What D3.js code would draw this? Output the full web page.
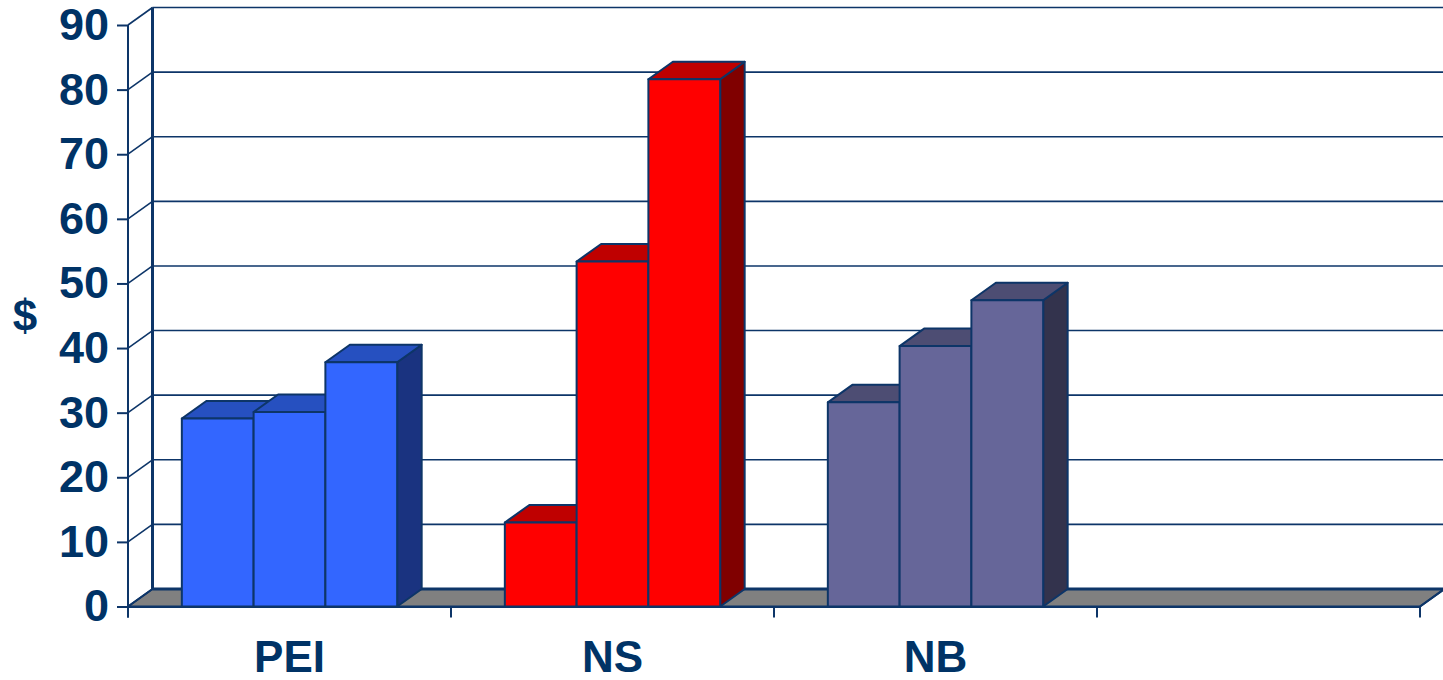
<!DOCTYPE html>
<html>
<head>
<meta charset="utf-8">
<script src="https://cdn.jsdelivr.net/npm/d3@7"></script>
<style>
  body { margin: 0; background: #fff; }
  text { font-family: "Liberation Sans", Arial, sans-serif; font-weight: bold; }
</style>
</head>
<body>
<svg id="chart"></svg>
<script>
const categories = ["PEI", "NS", "NB", ""];
const seriesIdx = [0, 1, 2];
const peiValues = [29.1, 30.1, 37.8];
const nsValues = [13, 53.4, 81.6];
const nbValues = [31.6, 40.3, 47.4];
const yTicks = [0, 10, 20, 30, 40, 50, 60, 70, 80, 90];

const values = { PEI: peiValues, NS: nsValues, NB: nbValues, "": [] };
const colors = {
    PEI: { front: "#3366ff", top: "#2650c0", side: "#1a3380" },
    NS:  { front: "#ff0000", top: "#bf0000", side: "#800000" },
    NB:  { front: "#666699", top: "#4d4d73", side: "#33334d" },
    "":  { front: "#fff", top: "#fff", side: "#fff" }
};

const width = 1443, height = 680;
const navy = "#0d3568";
const DX = 24.5, DY = -17.5;

const svg = d3.select("#chart")
    .attr("width", width)
    .attr("height", height);

const y = d3.scaleLinear().domain([0, 90]).range([606.5, 25]);

const x0 = d3.scaleBand()
    .domain(categories)
    .range([128, 1420])
    .padding(0);

const groupW = x0.bandwidth() * 2 / 3;
const x1 = d3.scaleBand()
    .domain(seriesIdx)
    .range([0, groupW]);

const left = x0.range()[0], right = x0.range()[1];

// floor
svg.append("polygon")
    .attr("points", [[left, y(0)], [right, y(0)], [right + DX, y(0) + DY], [left + DX, y(0) + DY]].join(" "))
    .attr("fill", "#808080")
    .attr("stroke", navy)
    .attr("stroke-width", 2)
    .attr("stroke-linejoin", "round");

// back wall gridlines and side wall lines
svg.append("g")
    .selectAll("line")
    .data(yTicks.slice(1))
    .join("line")
    .attr("x1", left + DX)
    .attr("x2", width + 5)
    .attr("y1", d => y(d) + DY)
    .attr("y2", d => y(d) + DY)
    .attr("stroke", navy)
    .attr("stroke-width", 1.6);

svg.append("g")
    .selectAll("line")
    .data(yTicks)
    .join("line")
    .attr("x1", left)
    .attr("x2", left + DX)
    .attr("y1", d => y(d))
    .attr("y2", d => y(d) + DY)
    .attr("stroke", navy)
    .attr("stroke-width", 1.6);

svg.append("line")
    .attr("x1", left + DX).attr("x2", left + DX)
    .attr("y1", y(0) + DY).attr("y2", y(90) + DY)
    .attr("stroke", navy).attr("stroke-width", 3);

svg.append("line")
    .attr("x1", left + DX).attr("x2", width + 5)
    .attr("y1", y(0) + DY).attr("y2", y(0) + DY)
    .attr("stroke", navy).attr("stroke-width", 3);

// bars
categories.forEach(cat => {
    const vals = values[cat];
    const c = colors[cat];
    const gx = x0(cat) + (x0.bandwidth() - groupW) / 2;
    vals.forEach((v, i) => {
        const xa = gx + x1(i), xb = xa + x1.bandwidth();
        const yt = y(v), yb = y(0);
        const g = svg.append("g")
            .attr("stroke", navy)
            .attr("stroke-width", 2)
            .attr("stroke-linejoin", "round");
        g.append("polygon")
            .attr("points", [[xb, yt], [xb + DX, yt + DY], [xb + DX, yb + DY], [xb, yb]].join(" "))
            .attr("fill", c.side);
        g.append("polygon")
            .attr("points", [[xa, yt], [xa + DX, yt + DY], [xb + DX, yt + DY], [xb, yt]].join(" "))
            .attr("fill", c.top);
        g.append("rect")
            .attr("x", xa)
            .attr("y", yt)
            .attr("width", xb - xa)
            .attr("height", yb - yt)
            .attr("fill", c.front);
    });
});

// right edge of floor
svg.append("line")
    .attr("x1", right).attr("x2", right + DX)
    .attr("y1", y(0)).attr("y2", y(0) + DY)
    .attr("stroke", navy).attr("stroke-width", 2);

// y axis
const yAxis = svg.append("g")
    .attr("transform", `translate(${left},0)`)
    .call(d3.axisLeft(y).tickValues(yTicks).tickSize(11).tickPadding(8).tickFormat(d3.format("d")));
yAxis.select(".domain")
    .attr("d", `M0,${y(90)}V${y(0) + 11}`)
    .attr("stroke", navy).attr("stroke-width", 2);
yAxis.selectAll(".tick line").attr("stroke", navy).attr("stroke-width", 2);
yAxis.selectAll(".tick text")
    .attr("fill", "#003366")
    .attr("font-size", 45)
    .attr("font-family", "Liberation Sans, Arial, sans-serif")
    .attr("font-weight", "bold");

// x axis
const xAxis = svg.append("g")
    .attr("transform", `translate(0,${y(0)})`)
    .call(d3.axisBottom(x0).tickSize(0).tickPadding(34));
xAxis.select(".domain").attr("stroke", navy).attr("stroke-width", 2);
xAxis.selectAll(".tick text")
    .attr("fill", "#003366")
    .attr("font-size", 44)
    .attr("font-family", "Liberation Sans, Arial, sans-serif")
    .attr("font-weight", "bold");

svg.append("g")
    .selectAll("line")
    .data(categories.map(c => x0(c)).concat([right]))
    .join("line")
    .attr("x1", d => d).attr("x2", d => d)
    .attr("y1", y(0)).attr("y2", y(0) + 11)
    .attr("stroke", navy).attr("stroke-width", 2);

// y title
svg.append("text")
    .attr("x", 25)
    .attr("y", 316)
    .attr("dy", "0.35em")
    .attr("text-anchor", "middle")
    .attr("fill", "#003366")
    .attr("font-size", 44)
    .text("$");
</script>
</body>
</html>
